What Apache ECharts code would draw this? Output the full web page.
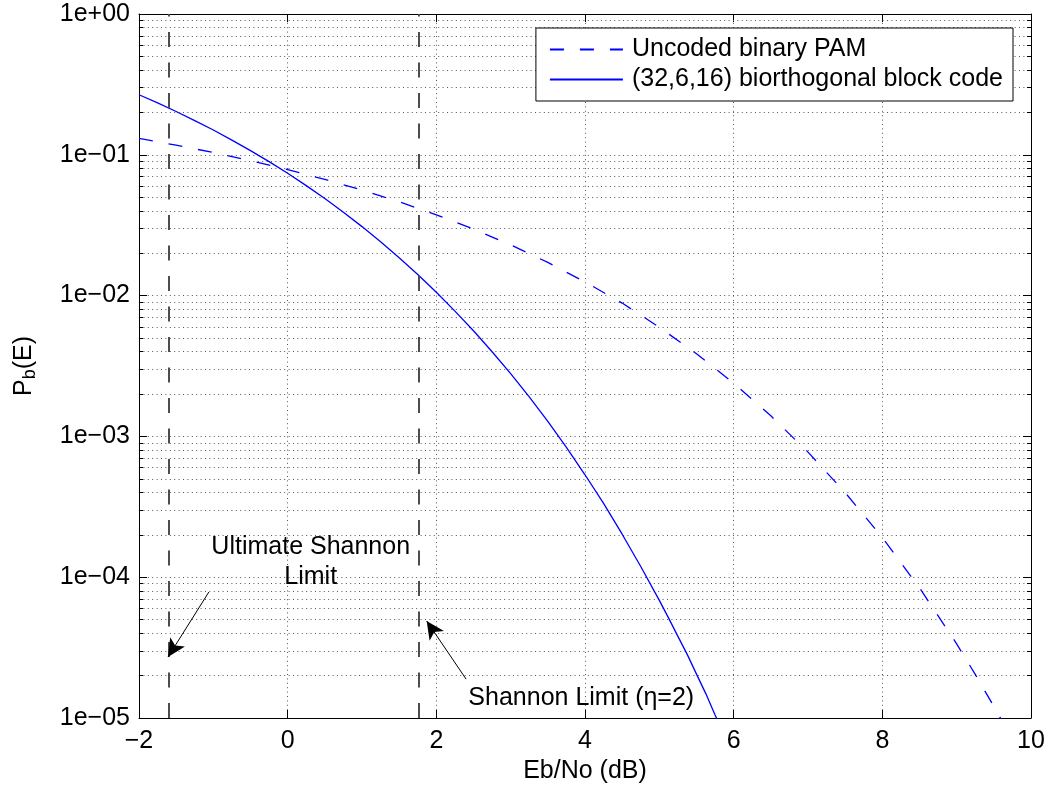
<!DOCTYPE html>
<html>
<head>
<meta charset="utf-8">
<script src="https://cdn.jsdelivr.net/npm/echarts@6/dist/echarts.min.js"></script>
<style>html,body{margin:0;padding:0;background:#fff}#chart{width:1048px;height:786px}</style>
</head>
<body>
<div id="chart"></div>
<script>
// ---- data ----
const ebnoUncoded = [-2, -1.5, -1, -0.5, 0, 0.5, 1, 1.5, 2, 2.5, 3, 3.5, 4, 4.5, 5, 5.5, 6, 6.5, 7, 7.5, 8, 8.5, 9, 9.25, 9.5, 9.6];
const pbUncoded   = [0.1307, 0.1170, 0.1038, 0.0909, 0.0786, 0.0668, 0.0563, 0.0464, 0.0375, 0.0297, 0.0229, 0.0172, 0.0125, 0.00885, 0.00596, 0.00386, 0.00239, 0.00140, 7.73e-4, 3.99e-4, 1.91e-4, 8.40e-5, 3.36e-5, 2.04e-5, 1.21e-5, 9.74e-6];
const ebnoCoded = [-2, -1.75, -1.5, -1.25, -1, -0.75, -0.5, -0.25, 0, 0.25, 0.5, 0.75, 1, 1.25, 1.5, 1.75, 2, 2.25, 2.5, 2.75, 3, 3.25, 3.5, 3.75, 4, 4.25, 4.5, 4.75, 5, 5.125, 5.25, 5.375, 5.5, 5.625, 5.75, 5.8];
const pbCoded   = [0.267, 0.2336, 0.203, 0.1749, 0.150, 0.1272, 0.1071, 0.0894, 0.0739, 0.0604, 0.0490, 0.0391, 0.0309, 0.02415, 0.0186, 0.01411, 0.01056, 7.76e-3, 5.63e-3, 3.99e-3, 2.79e-3, 1.906e-3, 1.278e-3, 8.36e-4, 5.34e-4, 3.34e-4, 2.02e-4, 1.191e-4, 6.85e-5, 5.12e-5, 3.80e-5, 2.83e-5, 2.05e-5, 1.49e-5, 1.05e-5, 9.2e-6];
const seriesNames = ['Uncoded binary PAM', '(32,6,16) biorthogonal block code'];
const shannonLimits = [-1.6, 1.76];

const FONT = '"Liberation Sans", Arial, Helvetica, sans-serif';
const zip = (a, b) => a.map((v, i) => [v, b[i]]);

// minor log grid / ticks (2..9 per decade)
const minorVals = [];
for (let e = -5; e < 0; e++) for (let m = 2; m <= 9; m++) minorVals.push(m * Math.pow(10, e));
const gridDot = { color: '#555', width: 1, type: [1, 3.4], opacity: 1 };
const minorGridSegs = minorVals.map(v => ({ coords: [[-2, v], [10, v]] }));
const minorTickSegs = [];
minorVals.forEach(v => {
  minorTickSegs.push({ coords: [[-2, v], [-1.946, v]] });
  minorTickSegs.push({ coords: [[10, v], [9.946, v]] });
});

const chart = echarts.init(document.getElementById('chart'));
const fmtY = v => {
  const e = Math.round(Math.log10(v));
  return '1e' + (e < 0 ? '\u2212' : '+') + String(Math.abs(e)).padStart(2, '0');
};
const fmtX = v => (v < 0 ? '\u2212' + Math.abs(v) : String(v));

chart.setOption({
  animation: false,
  backgroundColor: '#fff',
  textStyle: { fontFamily: FONT },
  grid: { left: 139, right: 17, top: 14, bottom: 68, containLabel: false, outerBoundsMode: 'none' },
  legend: {
    data: seriesNames,
    orient: 'vertical',
    right: 35, top: 28,
    backgroundColor: '#fff',
    borderColor: '#000', borderWidth: 1, borderRadius: 0,
    padding: [9, 10, 9, 13],
    itemGap: 5, itemWidth: 73, itemHeight: 25,
    itemStyle: { color: 'rgba(0,0,0,0)', borderColor: 'rgba(0,0,0,0)', borderWidth: 0 },
    textStyle: { fontSize: 25, color: '#000', fontFamily: FONT, padding: [0, 0, 0, 4] },
    selectedMode: false
  },
  xAxis: [
    {
      type: 'value', min: -2, max: 10, interval: 2, position: 'bottom',
      axisLine: { show: true, onZero: false, lineStyle: { color: '#000', width: 1 } },
      axisTick: { show: true, inside: true, length: 8, lineStyle: { color: '#000' } },
      axisLabel: { fontSize: 25, color: '#000', margin: 11, fontFamily: FONT, formatter: fmtX },
      splitLine: { show: true, lineStyle: gridDot },
      name: 'Eb/No (dB)', nameLocation: 'middle', nameGap: 35,
      nameTextStyle: { fontSize: 25, color: '#000', fontFamily: FONT }
    },
    {
      type: 'value', min: -2, max: 10, interval: 2, position: 'top',
      axisLine: { show: true, onZero: false, lineStyle: { color: '#000', width: 1 } },
      axisTick: { show: true, inside: true, length: 8, lineStyle: { color: '#000' } },
      axisLabel: { show: false }, splitLine: { show: false }
    }
  ],
  yAxis: [
    {
      type: 'log', logBase: 10, min: 1e-5, max: 1, interval: 1, position: 'left',
      axisLine: { show: true, onZero: false, lineStyle: { color: '#000', width: 1 } },
      axisTick: { show: true, inside: true, length: 8, lineStyle: { color: '#000' } },
      axisLabel: { fontSize: 25, color: '#000', margin: 9, fontFamily: FONT, formatter: fmtY },
      splitLine: { show: true, lineStyle: gridDot },
      name: 'P{sub|b}(E)', nameLocation: 'middle', nameGap: 100,
      nameTextStyle: {
        fontSize: 25, color: '#000', fontFamily: FONT,
        rich: { sub: { fontSize: 18, fontFamily: FONT, color: '#000', verticalAlign: 'bottom', padding: [12, 0, 0, 0] } }
      }
    },
    {
      type: 'log', logBase: 10, min: 1e-5, max: 1, interval: 1, position: 'right',
      axisLine: { show: true, onZero: false, lineStyle: { color: '#000', width: 1 } },
      axisTick: { show: true, inside: true, length: 8, lineStyle: { color: '#000' } },
      axisLabel: { show: false }, splitLine: { show: false }
    }
  ],
  series: [
    {
      name: 'grid-minor', type: 'lines', coordinateSystem: 'cartesian2d', silent: true, z: 1,
      lineStyle: gridDot, data: minorGridSegs
    },
    {
      name: 'ticks-minor', type: 'lines', coordinateSystem: 'cartesian2d', silent: true, z: 3,
      lineStyle: { color: '#000', width: 1, type: 'solid', opacity: 1 }, data: minorTickSegs
    },
    {
      name: 'limits', type: 'line', data: [], silent: true, z: 2,
      markLine: {
        silent: true, symbol: ['none', 'none'], label: { show: false }, animation: false,
        lineStyle: { color: '#4d4d4d', width: 2, type: [15, 15.5] },
        data: shannonLimits.map(v => ({ xAxis: v }))
      }
    },
    {
      name: 'annotations', type: 'line', data: [], silent: true, z: 5,
      markLine: {
        silent: true, symbol: ['none', 'arrow'], symbolSize: [13, 18], label: { show: false }, animation: false,
        lineStyle: { color: '#000', width: 1, type: 'solid' },
        itemStyle: { color: '#000' },
        data: [
          [{ coord: [-1.06, 7.85e-5] }, { coord: [-1.61, 2.71e-5] }],
          [{ coord: [2.40, 1.89e-5] }, { coord: [1.87, 4.89e-5] }]
        ]
      },
      markPoint: {
        silent: true, symbol: 'circle', symbolSize: 1, itemStyle: { color: 'rgba(0,0,0,0)' }, animation: false,
        label: { show: true, position: 'inside', color: '#000', fontSize: 25, fontFamily: FONT, lineHeight: 30, align: 'center' },
        data: [
          { coord: [0.31, 1.28e-4], label: { formatter: 'Ultimate Shannon\nLimit' } },
          { coord: [3.95, 1.39e-5], label: { formatter: 'Shannon Limit (\u03b7=2)' } }
        ]
      }
    },
    {
      name: seriesNames[0], type: 'line', data: zip(ebnoUncoded, pbUncoded),
      showSymbol: false, symbol: 'none', smooth: false, clip: true, z: 4,
      lineStyle: { color: '#0000ff', width: 1.3, type: [14, 16] },
      itemStyle: { color: '#0000ff' }
    },
    {
      name: seriesNames[1], type: 'line', data: zip(ebnoCoded, pbCoded),
      showSymbol: false, symbol: 'none', smooth: false, clip: true, z: 4,
      lineStyle: { color: '#0000ff', width: 1.3, type: 'solid' },
      itemStyle: { color: '#0000ff' }
    }
  ]
});
</script>
</body>
</html>
